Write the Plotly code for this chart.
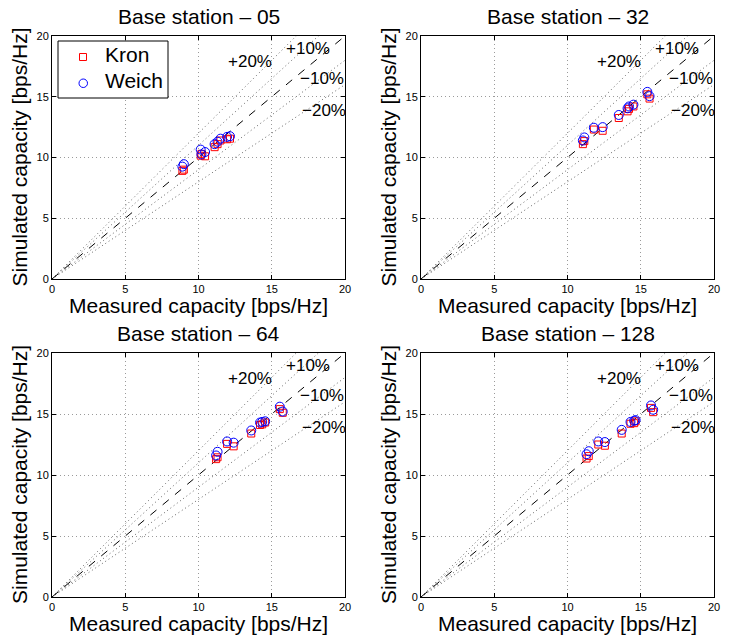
import plotly.graph_objects as go

# ---- data ----
stations = ["05", "32", "64", "128"]

measured_05 = [8.9, 9.0, 10.15, 10.2, 10.45, 11.1, 11.3, 11.5, 11.95, 12.15]
kron_05 = [8.9, 9.0, 10.15, 10.3, 10.1, 10.85, 11.1, 11.4, 11.5, 11.55]
weich_05 = [9.25, 9.45, 10.65, 10.25, 10.45, 11.1, 11.3, 11.55, 11.7, 11.75]

measured_32 = [11.05, 11.15, 11.8, 12.4, 13.5, 14.1, 14.2, 14.5, 15.45, 15.6]
kron_32 = [11.1, 11.35, 12.3, 12.2, 13.25, 13.8, 14.0, 14.2, 15.2, 14.85]
weich_32 = [11.4, 11.65, 12.45, 12.5, 13.5, 14.05, 14.2, 14.35, 15.4, 15.05]

measured_64 = [11.2, 11.3, 11.95, 12.4, 13.6, 14.2, 14.35, 14.55, 15.55, 15.75]
kron_64 = [11.3, 11.45, 12.55, 12.35, 13.4, 14.1, 14.15, 14.3, 15.4, 15.1]
weich_64 = [11.6, 11.9, 12.75, 12.65, 13.65, 14.3, 14.35, 14.4, 15.6, 15.2]

measured_128 = [11.3, 11.45, 12.1, 12.55, 13.7, 14.3, 14.55, 14.65, 15.7, 15.85]
kron_128 = [11.35, 11.55, 12.5, 12.4, 13.4, 14.2, 14.25, 14.4, 15.5, 15.15]
weich_128 = [11.7, 11.95, 12.75, 12.7, 13.7, 14.35, 14.45, 14.5, 15.7, 15.35]

measured = [measured_05, measured_32, measured_64, measured_128]
kron = [kron_05, kron_32, kron_64, kron_128]
weich = [weich_05, weich_32, weich_64, weich_128]

series_names = ["Kron", "Weich"]
ref_factors = [1.2, 1.1, 0.9, 0.8]
ref_labels = ["+20%", "+10%", "\u221210%", "\u221220%"]
ref_label_x = [13.5, 17.5, 18.45, 18.6]
ref_label_y = [17.9, 18.95, 16.5, 13.9]
tick_vals = [0, 5, 10, 15, 20]
tick_text = ["0", "5", "10", "15", "20"]
axis_range = [0, 20]

# ---- layout geometry (screen pixels; body margin removed by post_script) ----
W, H = 737, 641
OFF = 0
FONT = "Liberation Sans, Arial, sans-serif"


def px_x(p):
    return (p - OFF) / W


def px_y(p):
    return 1 - (p - OFF) / H


xdoms = [[px_x(52), px_x(345)], [px_x(421), px_x(714)]]
ydoms = [[px_y(279), px_y(36)], [px_y(597), px_y(353)]]
ylabel_x = [px_x(19), px_x(388)]

fig = go.Figure()
layout = dict(
    width=W, height=H, margin=dict(l=0, r=0, t=0, b=0, autoexpand=False),
    paper_bgcolor="white", plot_bgcolor="white",
    font=dict(family=FONT, color="black"),
    showlegend=False,
)
annotations = []
shapes = []

for i, st in enumerate(stations):
    r, c = divmod(i, 2)
    idx = "" if i == 0 else str(i + 1)
    xa, ya = "x" + idx, "y" + idx
    axcommon = dict(range=axis_range, tickvals=tick_vals, ticktext=tick_text,
                    showline=True, linecolor="black", linewidth=1, mirror="ticks",
                    ticks="inside", ticklen=4, tickcolor="black",
                    tickfont=dict(size=11, family=FONT), automargin=False,
                    showgrid=True, gridcolor="#9a9a9a", griddash="1px,3px", gridwidth=1,
                    zeroline=False, fixedrange=True)
    layout["xaxis" + idx] = dict(domain=xdoms[c], anchor=ya, **axcommon)
    layout["yaxis" + idx] = dict(domain=ydoms[r], anchor=xa, **axcommon)

    # reference lines
    for f in ref_factors:
        fig.add_trace(go.Scatter(x=[0, 20], y=[0, 20 * f], mode="lines",
                                 line=dict(color="#666666", width=1, dash="1px,3px"),
                                 xaxis=xa, yaxis=ya, hoverinfo="skip"))
    fig.add_trace(go.Scatter(x=[0, 20], y=[0, 20], mode="lines",
                             line=dict(color="black", width=1, dash="8px,8px"),
                             xaxis=xa, yaxis=ya, hoverinfo="skip"))
    # data
    fig.add_trace(go.Scatter(x=measured[i], y=kron[i], mode="markers", name=series_names[0],
                             marker=dict(symbol="square-open", size=7, color="red",
                                         line=dict(width=1)),
                             xaxis=xa, yaxis=ya))
    fig.add_trace(go.Scatter(x=measured[i], y=weich[i], mode="markers", name=series_names[1],
                             marker=dict(symbol="circle-open", size=9, color="blue",
                                         line=dict(width=1)),
                             xaxis=xa, yaxis=ya))

    for lbl, lx, ly in zip(ref_labels, ref_label_x, ref_label_y):
        annotations.append(dict(text=lbl, x=lx, y=ly, xref=xa, yref=ya,
                                xanchor="center", yanchor="middle",
                                showarrow=False, font=dict(size=17, family=FONT)))

    # titles and axis labels
    xc = (xdoms[c][0] + xdoms[c][1]) / 2
    yc = (ydoms[r][0] + ydoms[r][1]) / 2
    annotations.append(dict(text="Base station \u2013 " + st, x=xc, y=ydoms[r][1],
                            xref="paper", yref="paper", xanchor="center",
                            yanchor="bottom", yshift=6,
                            showarrow=False, font=dict(size=21, family=FONT)))
    annotations.append(dict(text="Measured capacity [bps/Hz]", x=xc, y=ydoms[r][0],
                            xref="paper", yref="paper", xanchor="center",
                            yanchor="top", yshift=-13,
                            showarrow=False, font=dict(size=21, family=FONT)))
    annotations.append(dict(text="Simulated capacity [bps/Hz]", x=ylabel_x[c], y=yc,
                            xref="paper", yref="paper", xanchor="center",
                            yanchor="middle", textangle=-90, showarrow=False,
                            font=dict(size=21, family=FONT)))

# ---- legend box (MATLAB style) in the first panel ----
shapes.append(dict(type="rect", xref="paper", yref="paper",
                   x0=px_x(58), x1=px_x(168), y0=px_y(98), y1=px_y(41),
                   line=dict(color="black", width=1), fillcolor="white", layer="above"))
shapes.append(dict(type="rect", xref="paper", yref="paper",
                   x0=px_x(79.5), x1=px_x(86.5), y0=px_y(60.5), y1=px_y(53.5),
                   line=dict(color="red", width=1), fillcolor="rgba(0,0,0,0)", layer="above"))
shapes.append(dict(type="circle", xref="paper", yref="paper",
                   x0=px_x(79), x1=px_x(87.5), y0=px_y(87.5), y1=px_y(79),
                   line=dict(color="blue", width=1), fillcolor="rgba(0,0,0,0)", layer="above"))
annotations.append(dict(text=series_names[0], x=px_x(103), y=px_y(55), xref="paper", yref="paper",
                        xanchor="left", yanchor="middle", showarrow=False,
                        font=dict(size=21, family=FONT)))
annotations.append(dict(text=series_names[1], x=px_x(103), y=px_y(81), xref="paper", yref="paper",
                        xanchor="left", yanchor="middle", showarrow=False,
                        font=dict(size=21, family=FONT)))

layout["annotations"] = annotations
layout["shapes"] = shapes
fig.update_layout(**layout)
fig.write_html("out.html", config={"displayModeBar": False, "staticPlot": True},
               post_script="document.body.style.margin='0';document.body.style.padding='0';")
